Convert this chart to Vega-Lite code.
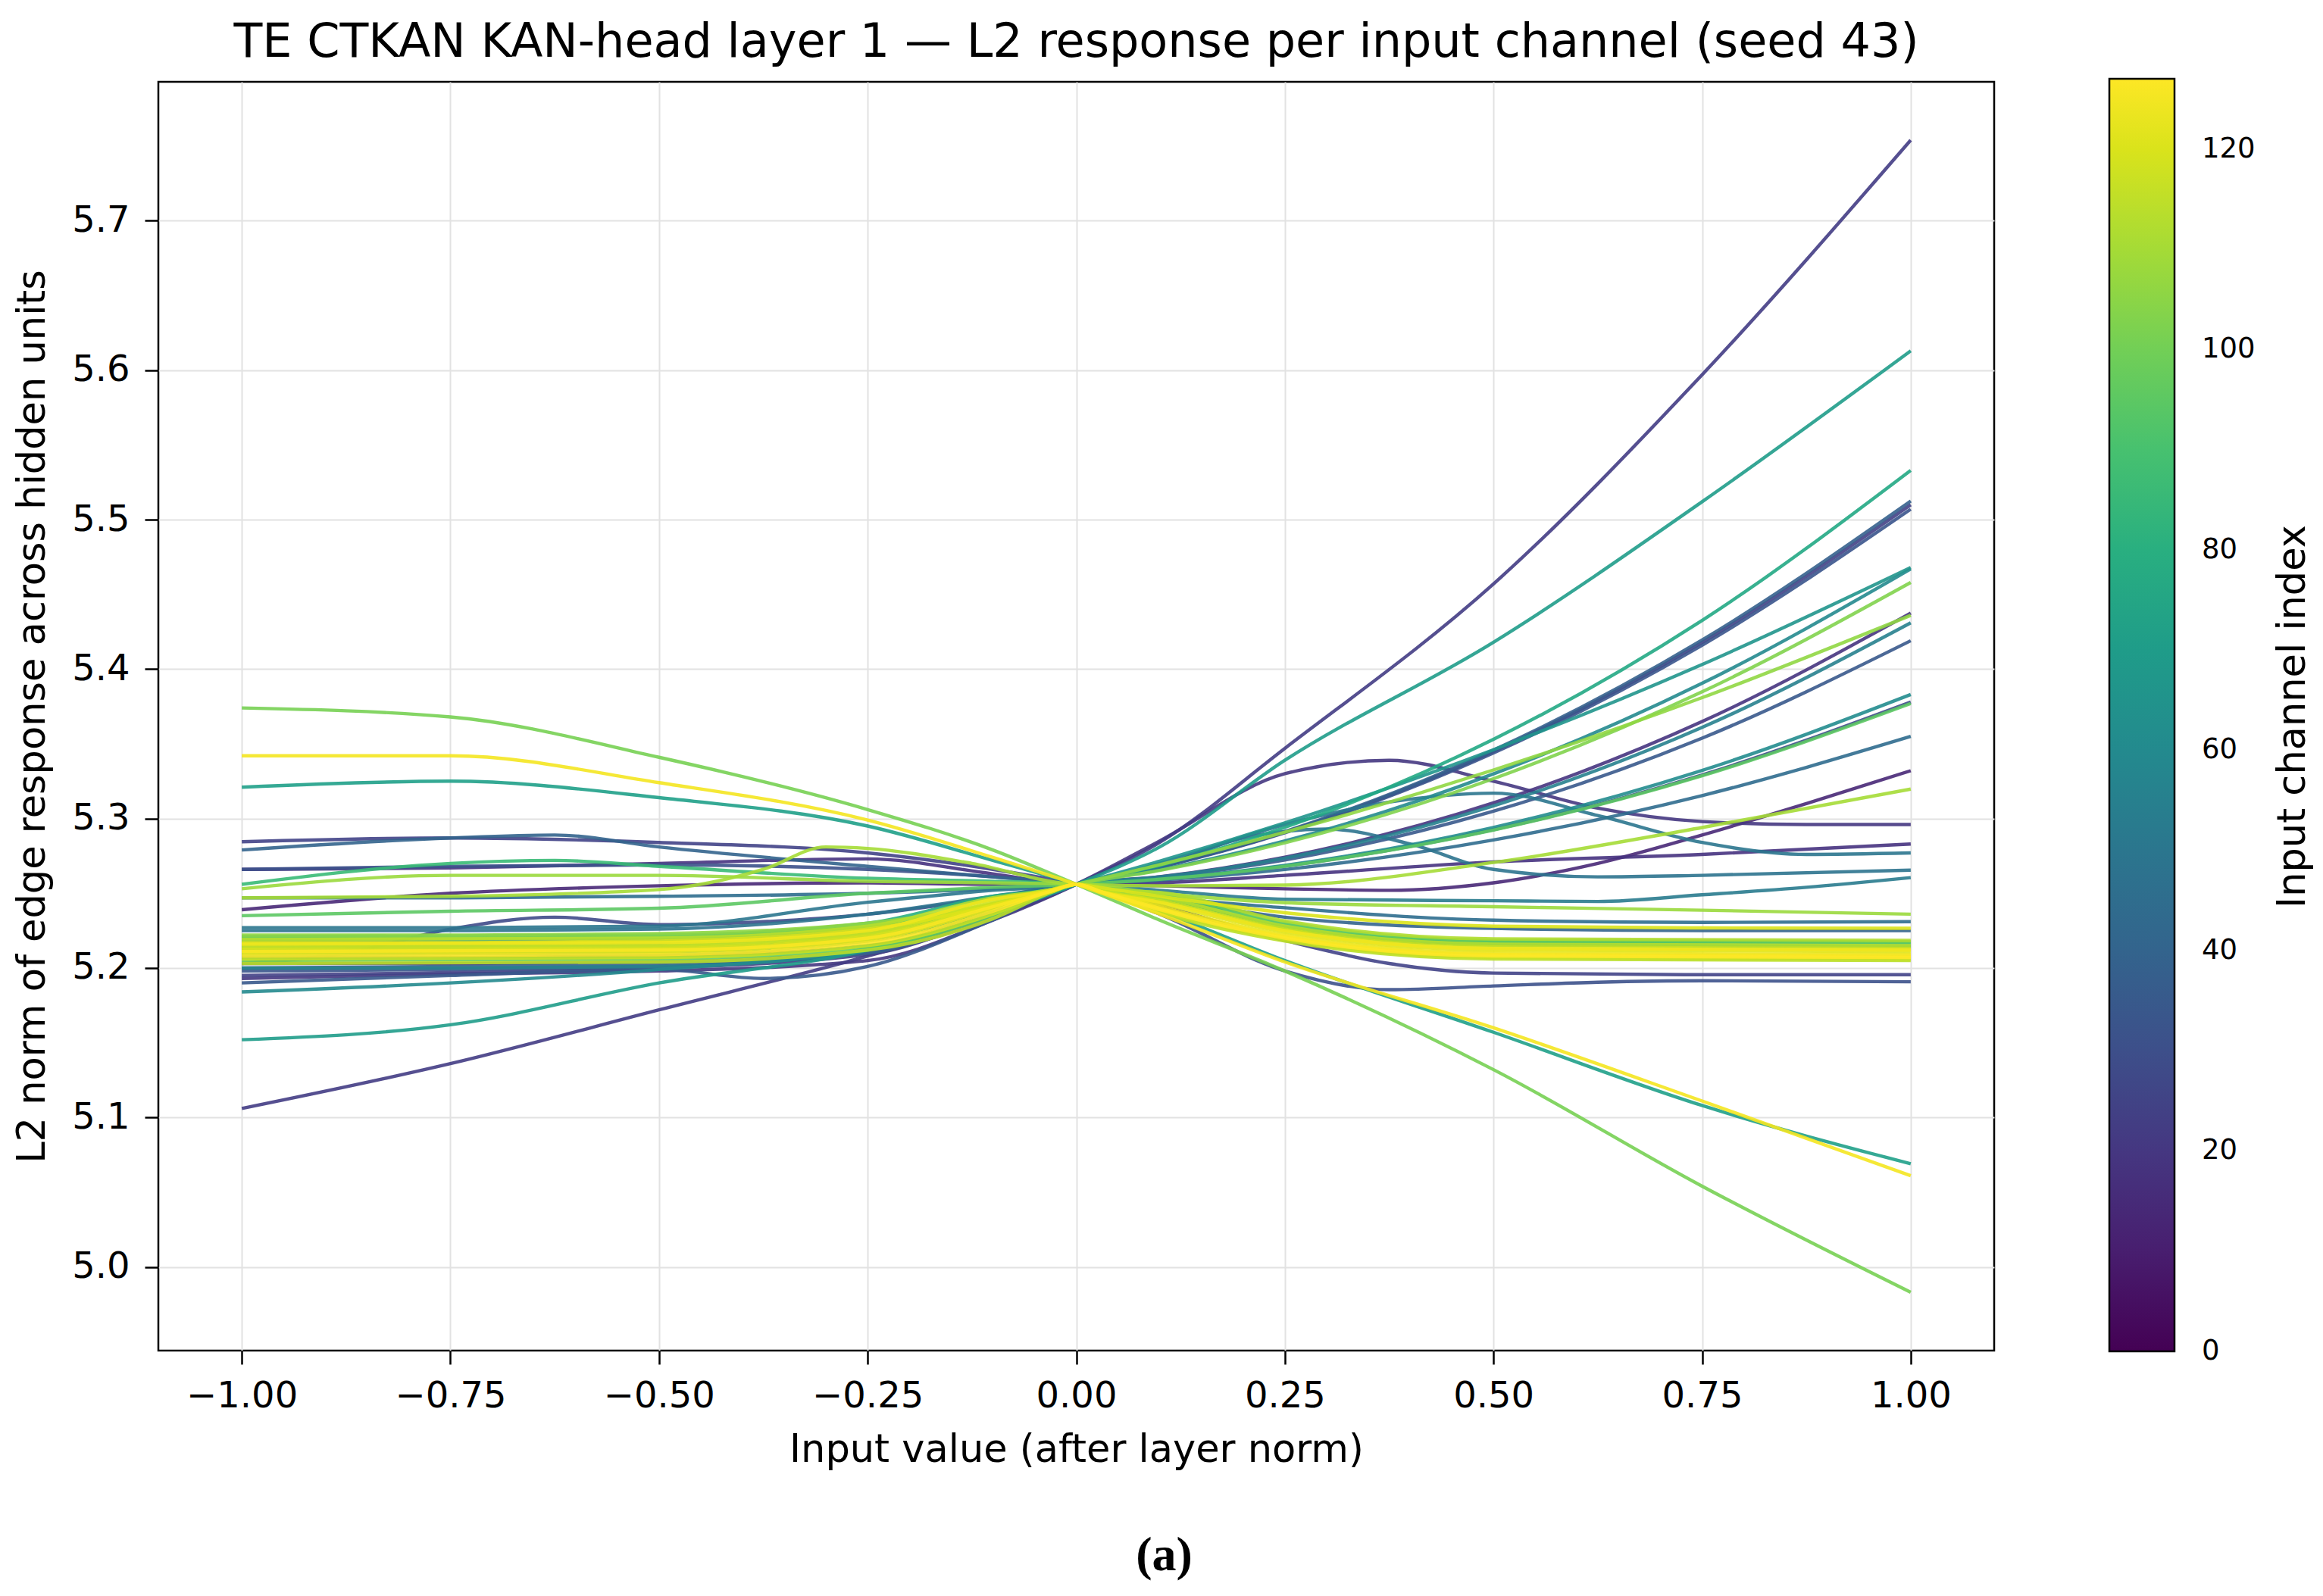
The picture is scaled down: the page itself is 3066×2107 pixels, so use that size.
{
  "$schema": "https://vega.github.io/schema/vega-lite/v6.json",
  "width": 2423,
  "height": 1675,
  "autosize": {"type": "none"},
  "padding": {"left": 209, "top": 108, "right": 434, "bottom": 324},
  "background": "white",
  "title": {
    "text": "TE CTKAN KAN-head layer 1 — L2 response per input channel (seed 43)",
    "fontSize": 62,
    "fontWeight": "normal",
    "color": "black",
    "anchor": "middle",
    "frame": "group",
    "offset": 16
  },
  "data": {
    "values": [
      {"ch":14,"x":-1,"y":5.239},{"ch":14,"x":-0.75,"y":5.25},{"ch":14,"x":-0.5,"y":5.255},{"ch":14,"x":-0.25,"y":5.257},{"ch":14,"x":-0.1,"y":5.256},{"ch":14,"x":0,"y":5.256},{"ch":14,"x":0.1,"y":5.255},{"ch":14,"x":0.25,"y":5.253},{"ch":14,"x":0.375,"y":5.252},{"ch":14,"x":0.5,"y":5.257},{"ch":14,"x":0.625,"y":5.27},{"ch":14,"x":0.75,"y":5.289},{"ch":14,"x":0.875,"y":5.31},{"ch":14,"x":1,"y":5.332},
      {"ch":18,"x":-1,"y":5.266},{"ch":18,"x":-0.75,"y":5.267},{"ch":18,"x":-0.5,"y":5.27},{"ch":18,"x":-0.25,"y":5.273},{"ch":18,"x":-0.1,"y":5.263},{"ch":18,"x":0,"y":5.256},{"ch":18,"x":0.1,"y":5.257},{"ch":18,"x":0.25,"y":5.262},{"ch":18,"x":0.5,"y":5.271},{"ch":18,"x":0.75,"y":5.276},{"ch":18,"x":1,"y":5.283},
      {"ch":19,"x":-1,"y":5.203},{"ch":19,"x":-0.75,"y":5.203},{"ch":19,"x":-0.5,"y":5.204},{"ch":19,"x":-0.25,"y":5.212},{"ch":19,"x":-0.1,"y":5.236},{"ch":19,"x":0,"y":5.256},{"ch":19,"x":0.1,"y":5.2611},{"ch":19,"x":0.25,"y":5.2742},{"ch":19,"x":0.5,"y":5.3105},{"ch":19,"x":0.75,"y":5.3649},{"ch":19,"x":1,"y":5.4375},
      {"ch":20,"x":-1,"y":5.193},{"ch":20,"x":-0.75,"y":5.196},{"ch":20,"x":-0.5,"y":5.198},{"ch":20,"x":-0.25,"y":5.205},{"ch":20,"x":-0.1,"y":5.232},{"ch":20,"x":0,"y":5.256},{"ch":20,"x":0.1,"y":5.285},{"ch":20,"x":0.25,"y":5.33},{"ch":20,"x":0.375,"y":5.339},{"ch":20,"x":0.5,"y":5.325},{"ch":20,"x":0.625,"y":5.307},{"ch":20,"x":0.75,"y":5.298},{"ch":20,"x":0.875,"y":5.296},{"ch":20,"x":1,"y":5.296},
      {"ch":22,"x":-1,"y":5.106},{"ch":22,"x":-0.75,"y":5.136},{"ch":22,"x":-0.5,"y":5.172},{"ch":22,"x":-0.25,"y":5.208},{"ch":22,"x":-0.1,"y":5.233},{"ch":22,"x":0,"y":5.256},{"ch":22,"x":0.1,"y":5.284},{"ch":22,"x":0.25,"y":5.347},{"ch":22,"x":0.5,"y":5.457},{"ch":22,"x":0.75,"y":5.597},{"ch":22,"x":1,"y":5.754},
      {"ch":24,"x":-1,"y":5.195},{"ch":24,"x":-0.75,"y":5.197},{"ch":24,"x":-0.5,"y":5.2},{"ch":24,"x":-0.25,"y":5.209},{"ch":24,"x":-0.1,"y":5.235},{"ch":24,"x":0,"y":5.256},{"ch":24,"x":0.1,"y":5.2677},{"ch":24,"x":0.25,"y":5.2909},{"ch":24,"x":0.5,"y":5.3449},{"ch":24,"x":0.75,"y":5.4179},{"ch":24,"x":1,"y":5.51},
      {"ch":25,"x":-1,"y":5.2845},{"ch":25,"x":-0.75,"y":5.287},{"ch":25,"x":-0.5,"y":5.284},{"ch":25,"x":-0.25,"y":5.277},{"ch":25,"x":-0.1,"y":5.266},{"ch":25,"x":0,"y":5.256},{"ch":25,"x":0.1,"y":5.242},{"ch":25,"x":0.25,"y":5.2185},{"ch":25,"x":0.375,"y":5.203},{"ch":25,"x":0.5,"y":5.1966},{"ch":25,"x":0.75,"y":5.1955},{"ch":25,"x":1,"y":5.1955},
      {"ch":28,"x":-1,"y":5.203},{"ch":28,"x":-0.875,"y":5.21},{"ch":28,"x":-0.75,"y":5.226},{"ch":28,"x":-0.625,"y":5.234},{"ch":28,"x":-0.5,"y":5.229},{"ch":28,"x":-0.375,"y":5.231},{"ch":28,"x":-0.25,"y":5.236},{"ch":28,"x":-0.125,"y":5.245},{"ch":28,"x":0,"y":5.256},{"ch":28,"x":0.1,"y":5.2594},{"ch":28,"x":0.25,"y":5.2682},{"ch":28,"x":0.5,"y":5.2926},{"ch":28,"x":0.75,"y":5.3292},{"ch":28,"x":1,"y":5.378},
      {"ch":31,"x":-1,"y":5.266},{"ch":31,"x":-0.75,"y":5.268},{"ch":31,"x":-0.5,"y":5.269},{"ch":31,"x":-0.25,"y":5.266},{"ch":31,"x":-0.1,"y":5.261},{"ch":31,"x":0,"y":5.256},{"ch":31,"x":0.1,"y":5.236},{"ch":31,"x":0.25,"y":5.198},{"ch":31,"x":0.375,"y":5.1855},{"ch":31,"x":0.5,"y":5.188},{"ch":31,"x":0.625,"y":5.1905},{"ch":31,"x":0.75,"y":5.1915},{"ch":31,"x":1,"y":5.1908},
      {"ch":33,"x":-1,"y":5.198},{"ch":33,"x":-0.75,"y":5.199},{"ch":33,"x":-0.5,"y":5.201},{"ch":33,"x":-0.25,"y":5.211},{"ch":33,"x":-0.1,"y":5.237},{"ch":33,"x":0,"y":5.256},{"ch":33,"x":0.1,"y":5.2675},{"ch":33,"x":0.25,"y":5.2905},{"ch":33,"x":0.5,"y":5.3439},{"ch":33,"x":0.75,"y":5.416},{"ch":33,"x":1,"y":5.507},
      {"ch":35,"x":-1,"y":5.19},{"ch":35,"x":-0.75,"y":5.195},{"ch":35,"x":-0.5,"y":5.199},{"ch":35,"x":-0.375,"y":5.193},{"ch":35,"x":-0.25,"y":5.201},{"ch":35,"x":-0.1,"y":5.232},{"ch":35,"x":0,"y":5.256},{"ch":35,"x":0.1,"y":5.2606},{"ch":35,"x":0.25,"y":5.2723},{"ch":35,"x":0.5,"y":5.3049},{"ch":35,"x":0.75,"y":5.3538},{"ch":35,"x":1,"y":5.419},
      {"ch":38,"x":-1,"y":5.2},{"ch":38,"x":-0.75,"y":5.201},{"ch":38,"x":-0.5,"y":5.203},{"ch":38,"x":-0.25,"y":5.21},{"ch":38,"x":-0.1,"y":5.236},{"ch":38,"x":0,"y":5.256},{"ch":38,"x":0.1,"y":5.2678},{"ch":38,"x":0.25,"y":5.2913},{"ch":38,"x":0.5,"y":5.3458},{"ch":38,"x":0.75,"y":5.4195},{"ch":38,"x":1,"y":5.5125},
      {"ch":40,"x":-1,"y":5.279},{"ch":40,"x":-0.75,"y":5.287},{"ch":40,"x":-0.625,"y":5.289},{"ch":40,"x":-0.5,"y":5.281},{"ch":40,"x":-0.25,"y":5.268},{"ch":40,"x":-0.1,"y":5.261},{"ch":40,"x":0,"y":5.256},{"ch":40,"x":0.1,"y":5.247},{"ch":40,"x":0.25,"y":5.234},{"ch":40,"x":0.5,"y":5.2265},{"ch":40,"x":0.75,"y":5.225},{"ch":40,"x":1,"y":5.225},
      {"ch":44,"x":-1,"y":5.207},{"ch":44,"x":-0.75,"y":5.207},{"ch":44,"x":-0.5,"y":5.208},{"ch":44,"x":-0.25,"y":5.215},{"ch":44,"x":-0.1,"y":5.237},{"ch":44,"x":0,"y":5.256},{"ch":44,"x":0.1,"y":5.2588},{"ch":44,"x":0.25,"y":5.2659},{"ch":44,"x":0.5,"y":5.2857},{"ch":44,"x":0.75,"y":5.3154},{"ch":44,"x":1,"y":5.355},
      {"ch":45,"x":-1,"y":5.247},{"ch":45,"x":-0.75,"y":5.247},{"ch":45,"x":-0.5,"y":5.248},{"ch":45,"x":-0.25,"y":5.25},{"ch":45,"x":-0.1,"y":5.253},{"ch":45,"x":-0.03,"y":5.2551},{"ch":45,"x":0,"y":5.256},{"ch":45,"x":0.03,"y":5.2545},{"ch":45,"x":0.1,"y":5.248},{"ch":45,"x":0.25,"y":5.2403},{"ch":45,"x":0.5,"y":5.232},{"ch":45,"x":0.75,"y":5.2305},{"ch":45,"x":1,"y":5.231},
      {"ch":48,"x":-1,"y":5.225},{"ch":48,"x":-0.75,"y":5.225},{"ch":48,"x":-0.5,"y":5.226},{"ch":48,"x":-0.25,"y":5.236},{"ch":48,"x":-0.1,"y":5.248},{"ch":48,"x":0,"y":5.256},{"ch":48,"x":0.1,"y":5.268},{"ch":48,"x":0.2,"y":5.287},{"ch":48,"x":0.3,"y":5.293},{"ch":48,"x":0.4,"y":5.283},{"ch":48,"x":0.5,"y":5.266},{"ch":48,"x":0.625,"y":5.261},{"ch":48,"x":0.75,"y":5.262},{"ch":48,"x":1,"y":5.2655},
      {"ch":50,"x":-1,"y":5.227},{"ch":50,"x":-0.75,"y":5.227},{"ch":50,"x":-0.5,"y":5.228},{"ch":50,"x":-0.25,"y":5.244},{"ch":50,"x":-0.1,"y":5.252},{"ch":50,"x":0,"y":5.256},{"ch":50,"x":0.1,"y":5.27},{"ch":50,"x":0.25,"y":5.296},{"ch":50,"x":0.375,"y":5.311},{"ch":50,"x":0.5,"y":5.317},{"ch":50,"x":0.625,"y":5.302},{"ch":50,"x":0.75,"y":5.284},{"ch":50,"x":0.875,"y":5.276},{"ch":50,"x":1,"y":5.277},
      {"ch":52,"x":-1,"y":5.212},{"ch":52,"x":-0.75,"y":5.212},{"ch":52,"x":-0.5,"y":5.213},{"ch":52,"x":-0.25,"y":5.221},{"ch":52,"x":-0.1,"y":5.239},{"ch":52,"x":0,"y":5.256},{"ch":52,"x":0.1,"y":5.252},{"ch":52,"x":0.25,"y":5.246},{"ch":52,"x":0.5,"y":5.245},{"ch":52,"x":0.625,"y":5.2445},{"ch":52,"x":0.75,"y":5.249},{"ch":52,"x":0.875,"y":5.254},{"ch":52,"x":1,"y":5.2605},
      {"ch":55,"x":-1,"y":5.2},{"ch":55,"x":-0.75,"y":5.2},{"ch":55,"x":-0.5,"y":5.201},{"ch":55,"x":-0.25,"y":5.212},{"ch":55,"x":-0.1,"y":5.236},{"ch":55,"x":0,"y":5.256},{"ch":55,"x":0.1,"y":5.2609},{"ch":55,"x":0.25,"y":5.2735},{"ch":55,"x":0.5,"y":5.3085},{"ch":55,"x":0.75,"y":5.361},{"ch":55,"x":1,"y":5.431},
      {"ch":60,"x":-1,"y":5.184},{"ch":60,"x":-0.75,"y":5.19},{"ch":60,"x":-0.5,"y":5.199},{"ch":60,"x":-0.25,"y":5.213},{"ch":60,"x":-0.1,"y":5.237},{"ch":60,"x":0,"y":5.256},{"ch":60,"x":0.1,"y":5.2657},{"ch":60,"x":0.25,"y":5.285},{"ch":60,"x":0.5,"y":5.3299},{"ch":60,"x":0.75,"y":5.3905},{"ch":60,"x":1,"y":5.467},
      {"ch":61,"x":-1,"y":5.21},{"ch":61,"x":-0.75,"y":5.21},{"ch":61,"x":-0.5,"y":5.211},{"ch":61,"x":-0.25,"y":5.219},{"ch":61,"x":-0.1,"y":5.238},{"ch":61,"x":0,"y":5.256},{"ch":61,"x":0.1,"y":5.2596},{"ch":61,"x":0.25,"y":5.2687},{"ch":61,"x":0.5,"y":5.2941},{"ch":61,"x":0.75,"y":5.3322},{"ch":61,"x":1,"y":5.383},
      {"ch":66,"x":-1,"y":5.218},{"ch":66,"x":-0.75,"y":5.218},{"ch":66,"x":-0.5,"y":5.219},{"ch":66,"x":-0.25,"y":5.227},{"ch":66,"x":-0.1,"y":5.241},{"ch":66,"x":0,"y":5.256},{"ch":66,"x":0.1,"y":5.2715},{"ch":66,"x":0.25,"y":5.2971},{"ch":66,"x":0.5,"y":5.3461},{"ch":66,"x":0.75,"y":5.4031},{"ch":66,"x":1,"y":5.468},
      {"ch":70,"x":-1,"y":5.152},{"ch":70,"x":-0.75,"y":5.162},{"ch":70,"x":-0.5,"y":5.19},{"ch":70,"x":-0.25,"y":5.212},{"ch":70,"x":-0.1,"y":5.236},{"ch":70,"x":0,"y":5.256},{"ch":70,"x":0.1,"y":5.281},{"ch":70,"x":0.25,"y":5.339},{"ch":70,"x":0.5,"y":5.418},{"ch":70,"x":0.75,"y":5.512},{"ch":70,"x":1,"y":5.613},
      {"ch":72,"x":-1,"y":5.321},{"ch":72,"x":-0.75,"y":5.325},{"ch":72,"x":-0.5,"y":5.314},{"ch":72,"x":-0.25,"y":5.295},{"ch":72,"x":-0.1,"y":5.272},{"ch":72,"x":0,"y":5.256},{"ch":72,"x":0.1,"y":5.238},{"ch":72,"x":0.25,"y":5.205},{"ch":72,"x":0.5,"y":5.157},{"ch":72,"x":0.75,"y":5.108},{"ch":72,"x":1,"y":5.069},
      {"ch":76,"x":-1,"y":5.215},{"ch":76,"x":-0.75,"y":5.215},{"ch":76,"x":-0.5,"y":5.216},{"ch":76,"x":-0.25,"y":5.224},{"ch":76,"x":-0.1,"y":5.24},{"ch":76,"x":0,"y":5.256},{"ch":76,"x":0.1,"y":5.2687},{"ch":76,"x":0.25,"y":5.2941},{"ch":76,"x":0.5,"y":5.353},{"ch":76,"x":0.75,"y":5.4326},{"ch":76,"x":1,"y":5.533},
      {"ch":78,"x":-1,"y":5.209},{"ch":78,"x":-0.5,"y":5.21},{"ch":78,"x":-0.25,"y":5.218},{"ch":78,"x":-0.1,"y":5.239},{"ch":78,"x":-0.03,"y":5.2515},{"ch":78,"x":0,"y":5.256},{"ch":78,"x":0.03,"y":5.251},{"ch":78,"x":0.1,"y":5.2465},{"ch":78,"x":0.25,"y":5.2275},{"ch":78,"x":0.5,"y":5.2155},{"ch":78,"x":1,"y":5.2145},
      {"ch":80,"x":-1,"y":5.221},{"ch":80,"x":-0.5,"y":5.222},{"ch":80,"x":-0.25,"y":5.23},{"ch":80,"x":-0.1,"y":5.248},{"ch":80,"x":-0.03,"y":5.2525},{"ch":80,"x":0,"y":5.256},{"ch":80,"x":0.03,"y":5.2525},{"ch":80,"x":0.1,"y":5.2465},{"ch":80,"x":0.25,"y":5.2275},{"ch":80,"x":0.5,"y":5.2155},{"ch":80,"x":1,"y":5.2145},
      {"ch":86,"x":-1,"y":5.256},{"ch":86,"x":-0.75,"y":5.27},{"ch":86,"x":-0.625,"y":5.272},{"ch":86,"x":-0.5,"y":5.268},{"ch":86,"x":-0.25,"y":5.26},{"ch":86,"x":-0.1,"y":5.258},{"ch":86,"x":0,"y":5.256},{"ch":86,"x":0.1,"y":5.245},{"ch":86,"x":0.25,"y":5.226},{"ch":86,"x":0.5,"y":5.218},{"ch":86,"x":0.75,"y":5.2175},{"ch":86,"x":1,"y":5.2175},
      {"ch":90,"x":-1,"y":5.213},{"ch":90,"x":-0.5,"y":5.214},{"ch":90,"x":-0.25,"y":5.222},{"ch":90,"x":-0.1,"y":5.243},{"ch":90,"x":-0.03,"y":5.2515},{"ch":90,"x":0,"y":5.256},{"ch":90,"x":0.03,"y":5.2515},{"ch":90,"x":0.1,"y":5.248},{"ch":90,"x":0.25,"y":5.229},{"ch":90,"x":0.5,"y":5.217},{"ch":90,"x":1,"y":5.216},
      {"ch":95,"x":-1,"y":5.235},{"ch":95,"x":-0.75,"y":5.238},{"ch":95,"x":-0.5,"y":5.24},{"ch":95,"x":-0.25,"y":5.25},{"ch":95,"x":-0.1,"y":5.254},{"ch":95,"x":0,"y":5.256},{"ch":95,"x":0.1,"y":5.2594},{"ch":95,"x":0.25,"y":5.2681},{"ch":95,"x":0.5,"y":5.2923},{"ch":95,"x":0.75,"y":5.3286},{"ch":95,"x":1,"y":5.377},
      {"ch":97,"x":-1,"y":5.205},{"ch":97,"x":-0.5,"y":5.206},{"ch":97,"x":-0.25,"y":5.214},{"ch":97,"x":-0.1,"y":5.235},{"ch":97,"x":-0.03,"y":5.2515},{"ch":97,"x":0,"y":5.256},{"ch":97,"x":0.03,"y":5.2525},{"ch":97,"x":0.1,"y":5.2495},{"ch":97,"x":0.25,"y":5.2305},{"ch":97,"x":0.5,"y":5.2185},{"ch":97,"x":1,"y":5.2175},
      {"ch":101,"x":-1,"y":5.374},{"ch":101,"x":-0.75,"y":5.368},{"ch":101,"x":-0.5,"y":5.341},{"ch":101,"x":-0.25,"y":5.306},{"ch":101,"x":-0.1,"y":5.279},{"ch":101,"x":0,"y":5.256},{"ch":101,"x":0.1,"y":5.232},{"ch":101,"x":0.25,"y":5.198},{"ch":101,"x":0.5,"y":5.132},{"ch":101,"x":0.75,"y":5.054},{"ch":101,"x":1,"y":4.983},
      {"ch":103,"x":-1,"y":5.22},{"ch":103,"x":-0.75,"y":5.22},{"ch":103,"x":-0.5,"y":5.221},{"ch":103,"x":-0.25,"y":5.228},{"ch":103,"x":-0.1,"y":5.242},{"ch":103,"x":0,"y":5.256},{"ch":103,"x":0.1,"y":5.2653},{"ch":103,"x":0.25,"y":5.2838},{"ch":103,"x":0.5,"y":5.3267},{"ch":103,"x":0.75,"y":5.3848},{"ch":103,"x":1,"y":5.458},
      {"ch":106,"x":-1,"y":5.222},{"ch":106,"x":-0.75,"y":5.222},{"ch":106,"x":-0.5,"y":5.223},{"ch":106,"x":-0.25,"y":5.23},{"ch":106,"x":-0.1,"y":5.243},{"ch":106,"x":0,"y":5.256},{"ch":106,"x":0.1,"y":5.2691},{"ch":106,"x":0.25,"y":5.2909},{"ch":106,"x":0.5,"y":5.3325},{"ch":106,"x":0.75,"y":5.3809},{"ch":106,"x":1,"y":5.436},
      {"ch":108,"x":-1,"y":5.253},{"ch":108,"x":-0.75,"y":5.262},{"ch":108,"x":-0.5,"y":5.262},{"ch":108,"x":-0.25,"y":5.258},{"ch":108,"x":-0.1,"y":5.257},{"ch":108,"x":0,"y":5.256},{"ch":108,"x":0.1,"y":5.25},{"ch":108,"x":0.25,"y":5.2437},{"ch":108,"x":0.5,"y":5.241},{"ch":108,"x":0.75,"y":5.2387},{"ch":108,"x":1,"y":5.236},
      {"ch":110,"x":-1,"y":5.247},{"ch":110,"x":-0.75,"y":5.248},{"ch":110,"x":-0.5,"y":5.2525},{"ch":110,"x":-0.375,"y":5.266},{"ch":110,"x":-0.3,"y":5.281},{"ch":110,"x":-0.25,"y":5.28},{"ch":110,"x":-0.125,"y":5.27},{"ch":110,"x":0,"y":5.256},{"ch":110,"x":0.1,"y":5.255},{"ch":110,"x":0.25,"y":5.2555},{"ch":110,"x":0.5,"y":5.2706},{"ch":110,"x":0.75,"y":5.294},{"ch":110,"x":1,"y":5.3197},
      {"ch":112,"x":-1,"y":5.216},{"ch":112,"x":-0.5,"y":5.217},{"ch":112,"x":-0.25,"y":5.225},{"ch":112,"x":-0.1,"y":5.246},{"ch":112,"x":-0.03,"y":5.2525},{"ch":112,"x":0,"y":5.256},{"ch":112,"x":0.03,"y":5.2525},{"ch":112,"x":0.1,"y":5.2505},{"ch":112,"x":0.25,"y":5.2315},{"ch":112,"x":0.5,"y":5.2195},{"ch":112,"x":1,"y":5.2185},
      {"ch":113,"x":-1,"y":5.219},{"ch":113,"x":-0.5,"y":5.22},{"ch":113,"x":-0.25,"y":5.228},{"ch":113,"x":-0.1,"y":5.247},{"ch":113,"x":-0.03,"y":5.2525},{"ch":113,"x":0,"y":5.256},{"ch":113,"x":0.03,"y":5.2515},{"ch":113,"x":0.1,"y":5.247},{"ch":113,"x":0.25,"y":5.228},{"ch":113,"x":0.5,"y":5.216},{"ch":113,"x":1,"y":5.215},
      {"ch":114,"x":-1,"y":5.203},{"ch":114,"x":-0.5,"y":5.204},{"ch":114,"x":-0.25,"y":5.212},{"ch":114,"x":-0.1,"y":5.233},{"ch":114,"x":-0.03,"y":5.2505},{"ch":114,"x":0,"y":5.256},{"ch":114,"x":0.03,"y":5.2505},{"ch":114,"x":0.1,"y":5.237},{"ch":114,"x":0.25,"y":5.218},{"ch":114,"x":0.5,"y":5.206},{"ch":114,"x":1,"y":5.205},
      {"ch":116,"x":-1,"y":5.206},{"ch":116,"x":-0.5,"y":5.207},{"ch":116,"x":-0.25,"y":5.215},{"ch":116,"x":-0.1,"y":5.236},{"ch":116,"x":-0.03,"y":5.251},{"ch":116,"x":0,"y":5.256},{"ch":116,"x":0.03,"y":5.2505},{"ch":116,"x":0.1,"y":5.238},{"ch":116,"x":0.25,"y":5.219},{"ch":116,"x":0.5,"y":5.207},{"ch":116,"x":1,"y":5.206},
      {"ch":118,"x":-1,"y":5.214},{"ch":118,"x":-0.5,"y":5.215},{"ch":118,"x":-0.25,"y":5.223},{"ch":118,"x":-0.1,"y":5.244},{"ch":118,"x":-0.03,"y":5.252},{"ch":118,"x":0,"y":5.256},{"ch":118,"x":0.03,"y":5.2515},{"ch":118,"x":0.1,"y":5.245},{"ch":118,"x":0.25,"y":5.226},{"ch":118,"x":0.5,"y":5.214},{"ch":118,"x":1,"y":5.213},
      {"ch":120,"x":-1,"y":5.217},{"ch":120,"x":-0.75,"y":5.217},{"ch":120,"x":-0.5,"y":5.218},{"ch":120,"x":-0.25,"y":5.226},{"ch":120,"x":-0.1,"y":5.242},{"ch":120,"x":-0.03,"y":5.2518},{"ch":120,"x":0,"y":5.256},{"ch":120,"x":0.03,"y":5.2537},{"ch":120,"x":0.1,"y":5.248},{"ch":120,"x":0.25,"y":5.237},{"ch":120,"x":0.5,"y":5.228},{"ch":120,"x":0.75,"y":5.2268},{"ch":120,"x":1,"y":5.2266},
      {"ch":121,"x":-1,"y":5.212},{"ch":121,"x":-0.5,"y":5.213},{"ch":121,"x":-0.25,"y":5.221},{"ch":121,"x":-0.1,"y":5.242},{"ch":121,"x":-0.03,"y":5.2515},{"ch":121,"x":0,"y":5.256},{"ch":121,"x":0.03,"y":5.251},{"ch":121,"x":0.1,"y":5.243},{"ch":121,"x":0.25,"y":5.224},{"ch":121,"x":0.5,"y":5.212},{"ch":121,"x":1,"y":5.211},
      {"ch":123,"x":-1,"y":5.21},{"ch":123,"x":-0.5,"y":5.211},{"ch":123,"x":-0.25,"y":5.219},{"ch":123,"x":-0.1,"y":5.24},{"ch":123,"x":-0.03,"y":5.2515},{"ch":123,"x":0,"y":5.256},{"ch":123,"x":0.03,"y":5.251},{"ch":123,"x":0.1,"y":5.241},{"ch":123,"x":0.25,"y":5.222},{"ch":123,"x":0.5,"y":5.21},{"ch":123,"x":1,"y":5.209},
      {"ch":124,"x":-1,"y":5.216},{"ch":124,"x":-0.5,"y":5.217},{"ch":124,"x":-0.25,"y":5.225},{"ch":124,"x":-0.1,"y":5.246},{"ch":124,"x":-0.03,"y":5.252},{"ch":124,"x":0,"y":5.256},{"ch":124,"x":0.03,"y":5.251},{"ch":124,"x":0.1,"y":5.244},{"ch":124,"x":0.25,"y":5.225},{"ch":124,"x":0.5,"y":5.213},{"ch":124,"x":1,"y":5.212},
      {"ch":125,"x":-1,"y":5.342},{"ch":125,"x":-0.75,"y":5.342},{"ch":125,"x":-0.5,"y":5.324},{"ch":125,"x":-0.25,"y":5.299},{"ch":125,"x":-0.1,"y":5.274},{"ch":125,"x":0,"y":5.256},{"ch":125,"x":0.1,"y":5.236},{"ch":125,"x":0.25,"y":5.204},{"ch":125,"x":0.5,"y":5.16},{"ch":125,"x":0.75,"y":5.111},{"ch":125,"x":1,"y":5.061},
      {"ch":126,"x":-1,"y":5.211},{"ch":126,"x":-0.5,"y":5.212},{"ch":126,"x":-0.25,"y":5.22},{"ch":126,"x":-0.1,"y":5.241},{"ch":126,"x":-0.03,"y":5.2515},{"ch":126,"x":0,"y":5.256},{"ch":126,"x":0.03,"y":5.251},{"ch":126,"x":0.1,"y":5.24},{"ch":126,"x":0.25,"y":5.221},{"ch":126,"x":0.5,"y":5.209},{"ch":126,"x":1,"y":5.208},
      {"ch":127,"x":-1,"y":5.208},{"ch":127,"x":-0.5,"y":5.209},{"ch":127,"x":-0.25,"y":5.217},{"ch":127,"x":-0.1,"y":5.238},{"ch":127,"x":-0.03,"y":5.2515},{"ch":127,"x":0,"y":5.256},{"ch":127,"x":0.03,"y":5.251},{"ch":127,"x":0.1,"y":5.239},{"ch":127,"x":0.25,"y":5.22},{"ch":127,"x":0.5,"y":5.208},{"ch":127,"x":1,"y":5.207}
    ]
  },
  "layer": [
    {
      "mark": {"type": "line", "interpolate": "monotone", "strokeWidth": 4.4, "strokeOpacity": 0.9},
      "encoding": {
        "x": {
          "field": "x",
          "type": "quantitative",
          "scale": {"domain": [-1.1, 1.1], "nice": false, "zero": false},
          "axis": {
            "values": [-1, -0.75, -0.5, -0.25, 0, 0.25, 0.5, 0.75, 1],
            "format": ".2f",
            "title": "Input value (after layer norm)",
            "titleFontSize": 51,
            "titleFontWeight": "normal",
            "titleColor": "black",
            "titlePadding": 22,
            "labelFontSize": 48,
            "labelColor": "black",
            "labelPadding": 18,
            "labelOverlap": false,
            "labelFlush": false,
            "tickSize": 18,
            "tickWidth": 2.5,
            "tickColor": "black",
            "domain": false,
            "grid": true,
            "gridColor": "#e2e2e2",
            "gridWidth": 2
          }
        },
        "y": {
          "field": "y",
          "type": "quantitative",
          "scale": {"domain": [4.944, 5.793], "nice": false, "zero": false},
          "axis": {
            "values": [5.0, 5.1, 5.2, 5.3, 5.4, 5.5, 5.6, 5.7],
            "format": ".1f",
            "title": "L2 norm of edge response across hidden units",
            "titleFontSize": 51,
            "titleFontWeight": "normal",
            "titleColor": "black",
            "titlePadding": 25,
            "labelFontSize": 48,
            "labelColor": "black",
            "labelPadding": 20,
            "labelOverlap": false,
            "labelFlush": false,
            "tickSize": 18,
            "tickWidth": 2.5,
            "tickColor": "black",
            "domain": false,
            "grid": true,
            "gridColor": "#e2e2e2",
            "gridWidth": 2
          }
        },
        "color": {
          "field": "ch",
          "type": "quantitative",
          "scale": {"scheme": "viridis", "domain": [0, 127]},
          "legend": {
            "orient": "none",
            "legendX": 2575,
            "legendY": -4,
            "direction": "vertical",
            "title": null,
            "padding": 0,
            "gradientLength": 1680,
            "gradientThickness": 86,
            "gradientStrokeColor": "black",
            "gradientStrokeWidth": 2.5,
            "values": [0, 20, 40, 60, 80, 100, 120],
            "labelFontSize": 37,
            "labelColor": "black",
            "labelOffset": 36,
            "labelOverlap": false,
            "encode": {
              "gradient": {"update": {"opacity": {"value": 1}}},
              "labels": {"update": {"baseline": {"value": "middle"}}}
            }
          }
        },
        "detail": {"field": "ch", "type": "nominal"}
      }
    },
    {
      "mark": {"type": "point", "opacity": 0},
      "encoding": {
        "x": {
          "field": "x",
          "type": "quantitative",
          "axis": {
            "orient": "bottom",
            "title": "(a)",
            "titleFont": "Liberation Serif",
            "titleFontWeight": "bold",
            "titleFontSize": 64,
            "titleColor": "black",
            "titleBaseline": "middle",
            "titlePadding": 270,
            "titleX": 1327,
            "labels": false,
            "ticks": false,
            "domain": false,
            "grid": false
          }
        },
        "y": {
          "field": "y",
          "type": "quantitative",
          "axis": {
            "orient": "right",
            "title": "Input channel index",
            "titleFontSize": 51,
            "titleFontWeight": "normal",
            "titleColor": "black",
            "titleAngle": -90,
            "titleBaseline": "middle",
            "titlePadding": 394,
            "labels": false,
            "ticks": false,
            "domain": false,
            "grid": false
          }
        }
      }
    }
  ],
  "resolve": {"axis": {"x": "independent", "y": "independent"}},
  "config": {
    "font": "DejaVu Sans",
    "view": {"stroke": "black", "strokeWidth": 2.5}
  }
}
